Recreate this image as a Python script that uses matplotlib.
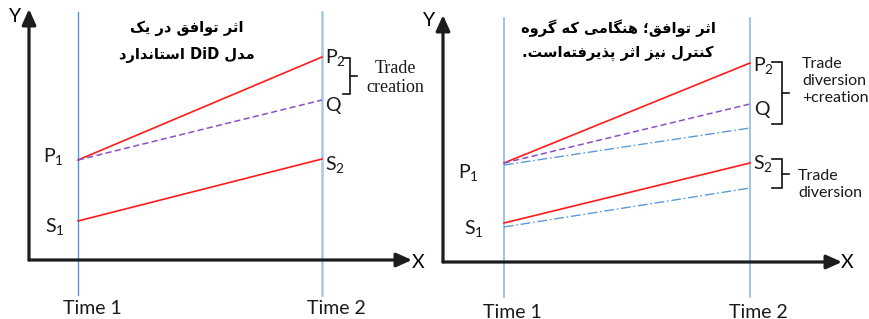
import re
import matplotlib
matplotlib.use("Agg")
import matplotlib.pyplot as plt

# ---------------- data ----------------
times = [1, 2]
time_labels = ["Time 1", "Time 2"]

# left panel: standard DiD
left_P = [10.0, 20.3]
left_Q = [10.0, 16.0]
left_S = [3.9, 10.1]

# right panel: control group also affected
right_P = [9.9, 19.9]
right_Q = [9.9, 15.8]
right_Pc = [9.7, 13.4]
right_S = [3.9, 9.9]
right_Sc = [3.5, 7.4]

left_title = ["اثر توافق در یک", "مدل DiD استاندارد"]
right_title = ["اثر توافق؛ هنگامی که گروه", "کنترل نیز اثر پذیرفته\u200cاست."]

plt.rcParams['mathtext.fontset'] = 'custom'
plt.rcParams['mathtext.rm'] = 'Lato'

# ---------------- simple Persian shaping ----------------
FORMS = {
    'ا': (0xFE8D, 0xFE8E, None, None),
    'ث': (0xFE99, 0xFE9A, 0xFE9B, 0xFE9C),
    'ر': (0xFEAD, 0xFEAE, None, None),
    'ت': (0xFE95, 0xFE96, 0xFE97, 0xFE98),
    'و': (0xFEED, 0xFEEE, None, None),
    'ف': (0xFED1, 0xFED2, 0xFED3, 0xFED4),
    'ق': (0xFED5, 0xFED6, 0xFED7, 0xFED8),
    'د': (0xFEA9, 0xFEAA, None, None),
    'ذ': (0xFEAB, 0xFEAC, None, None),
    'ز': (0xFEAF, 0xFEB0, None, None),
    'ی': (0xFBFC, 0xFBFD, 0xFBFE, 0xFBFF),
    'ک': (0xFB8E, 0xFB8F, 0xFB90, 0xFB91),
    'گ': (0xFB92, 0xFB93, 0xFB94, 0xFB95),
    'پ': (0xFB56, 0xFB57, 0xFB58, 0xFB59),
    'م': (0xFEE1, 0xFEE2, 0xFEE3, 0xFEE4),
    'ل': (0xFEDD, 0xFEDE, 0xFEDF, 0xFEE0),
    'س': (0xFEB1, 0xFEB2, 0xFEB3, 0xFEB4),
    'ن': (0xFEE5, 0xFEE6, 0xFEE7, 0xFEE8),
    'ه': (0xFEE9, 0xFEEA, 0xFEEB, 0xFEEC),
}


def dual(c):
    return c in FORMS and FORMS[c][2] is not None


def shape(text):
    out = []
    n = len(text)
    for i, c in enumerate(text):
        if c == '\u200c':
            continue
        if c not in FORMS:
            out.append(c)
            continue
        prevj = i > 0 and dual(text[i - 1])
        nextj = dual(c) and i + 1 < n and text[i + 1] in FORMS
        iso, fin, ini, med = FORMS[c]
        if prevj and nextj:
            cp = med
        elif prevj:
            cp = fin
        elif nextj:
            cp = ini
        else:
            cp = iso
        out.append(chr(cp))
    vis = ''.join(out)[::-1]
    vis = re.sub(r'[A-Za-z0-9]+', lambda m: m.group(0)[::-1], vis)
    return vis


# ---------------- figure ----------------
W, H = 869, 319
fig = plt.figure(figsize=(W / 100, H / 100), dpi=100)
fig.patch.set_facecolor('white')

LAT = ['Lato', 'DejaVu Sans']
AXC = '#1c1c1c'
RED = '#ff1a1a'
PURP = '#8a4fc6'
BLUE = '#5b9bd5'


def px_axes(x0, x1, ytop, ybot):
    return fig.add_axes([x0 / W, 1 - ybot / H, (x1 - x0) / W, (ybot - ytop) / H])


def setup(ax, xl, yl):
    ax.set_xlim(*xl)
    ax.set_ylim(*yl)
    for s in ax.spines.values():
        s.set_visible(False)
    ax.set_xticks([])
    ax.set_yticks([])
    ax.patch.set_alpha(0)
    ap = dict(arrowstyle='-|>,head_length=0.85,head_width=0.38', lw=2.3,
              color=AXC, shrinkA=0, shrinkB=0, mutation_scale=11)
    ax.annotate('', xy=(0, 1), xytext=(0, 0), xycoords='axes fraction',
                arrowprops=ap, annotation_clip=False)
    ax.annotate('', xy=(1, 0), xytext=(0, 0), xycoords='axes fraction',
                arrowprops=ap, annotation_clip=False)


def lab(ax, txt, x, y, dx, dy, ha='left', size=14):
    ax.annotate(txt, xy=(x, y), xytext=(dx, dy), textcoords='offset pixels',
                ha=ha, va='center', fontsize=size, family=LAT, color='#1a1a1a',
                annotation_clip=False)


def sub(letter, d):
    return letter + r'$_{\mathregular{' + d + '}}$'


def bracket(ax, x0, x1, x2, ytop, ybot):
    ym = (ytop + ybot) / 2
    ax.plot([x0, x1, x1, x0], [ytop, ytop, ybot, ybot], color='#111111', lw=1.2,
            clip_on=False, solid_joinstyle='miter')
    ax.plot([x1, x2], [ym, ym], color='#111111', lw=1.2, clip_on=False)


# ---------- left panel ----------
axL = px_axes(29, 412, 9, 260)
setup(axL, (1 - 49 / 244, 2 + 90 / 244), (0, 25.1))
axL.axvline(times[0], ymin=-0.14, ymax=0.988, color='#4f95d8', lw=1.0, clip_on=False)
axL.axvline(times[1], ymin=-0.14, ymax=0.988, color='#a8c8ea', lw=1.8, clip_on=False)
axL.plot(times, left_P, color=RED, lw=1.2)
axL.plot(times, left_Q, color=PURP, lw=1.1, dashes=(4, 2.2))
axL.plot(times, left_S, color=RED, lw=1.2)

lab(axL, sub('P', '1'), times[0], left_P[0], -14, 3, ha='right')
lab(axL, sub('S', '1'), times[0], left_S[0], -13, -6, ha='right')
lab(axL, sub('P', '2'), times[1], left_P[1], 3, -1)
lab(axL, 'Q', times[1], left_Q[1], 3, -5)
lab(axL, sub('S', '2'), times[1], left_S[1], 3, -6)
for t, s in zip(times, time_labels):
    lab(axL, s, t, 0, -15, -48)
bracket(axL, 2.086, 2.115, 2.143, left_P[1] - 0.1, left_Q[1] + 0.6)

fig.text(15 / W, 1 - 16 / H, 'Y', fontsize=14, family=LAT, ha='center', va='center')
fig.text(418 / W, 1 - 262 / H, 'X', fontsize=14, family=LAT, ha='center', va='center')
fig.text(395 / W, 1 - 78 / H, 'Trade\ncreation', fontsize=13, family='Liberation Serif',
         ha='center', va='center', linespacing=1.15, color='#1a1a1a')
fig.text(187 / W, 1 - 28 / H, shape(left_title[0]), fontsize=10.5, family='DejaVu Sans',
         weight='bold', ha='center', va='center')
fig.text(187 / W, 1 - 55 / H, shape(left_title[1]), fontsize=10.5, family='DejaVu Sans',
         weight='bold', ha='center', va='center')

# ---------- right panel ----------
axR = px_axes(443, 842, 15, 262)
setup(axR, (1 - 61 / 246, 2 + 92 / 246), (0, 24.7))
for t in times:
    axR.axvline(t, ymin=-0.142, ymax=0.988, color='#8db7e3', lw=1.2, clip_on=False)
axR.plot(times, right_P, color=RED, lw=1.2)
axR.plot(times, right_Q, color=PURP, lw=1.1, dashes=(4, 2.2))
axR.plot(times, right_Pc, color=BLUE, lw=1.0, dashes=(7, 2, 1.2, 2))
axR.plot(times, right_S, color=RED, lw=1.2)
axR.plot(times, right_Sc, color=BLUE, lw=1.0, dashes=(7, 2, 1.2, 2))

lab(axR, sub('P', '1'), times[0], right_P[0], -25, -10, ha='right')
lab(axR, sub('S', '1'), times[0], right_S[0], -20, -6, ha='right')
lab(axR, sub('P', '2'), times[1], right_P[1], 3, -3)
lab(axR, 'Q', times[1], right_Q[1], 4, -6)
lab(axR, sub('S', '2'), times[1], right_S[1], 3, -1)
for t, s in zip(times, time_labels):
    lab(axR, s, t, 0, -21, -50)
bracket(axR, 2.089, 2.13, 2.16, right_P[1] + 0.1, right_Pc[1] + 0.4)
bracket(axR, 2.089, 2.13, 2.16, right_S[1] + 0.4, right_Sc[1])

fig.text(429 / W, 1 - 21 / H, 'Y', fontsize=14, family=LAT, ha='center', va='center')
fig.text(847 / W, 1 - 263 / H, 'X', fontsize=14, family=LAT, ha='center', va='center')
fig.text(802 / W, 1 - 81 / H, 'Trade\ndiversion\n+creation', fontsize=11.5, family=LAT,
         ha='left', va='center', linespacing=1.3, color='#1a1a1a')
fig.text(798 / W, 1 - 184.5 / H, 'Trade\ndiversion', fontsize=11.5, family=LAT,
         ha='left', va='center', linespacing=1.3, color='#1a1a1a')
fig.text(618 / W, 1 - 28 / H, shape(right_title[0]), fontsize=10.5, family='DejaVu Sans',
         weight='bold', ha='center', va='center')
fig.text(618 / W, 1 - 53 / H, shape(right_title[1]), fontsize=10.5, family='DejaVu Sans',
         weight='bold', ha='center', va='center')

fig.savefig('out.png', dpi=100)
